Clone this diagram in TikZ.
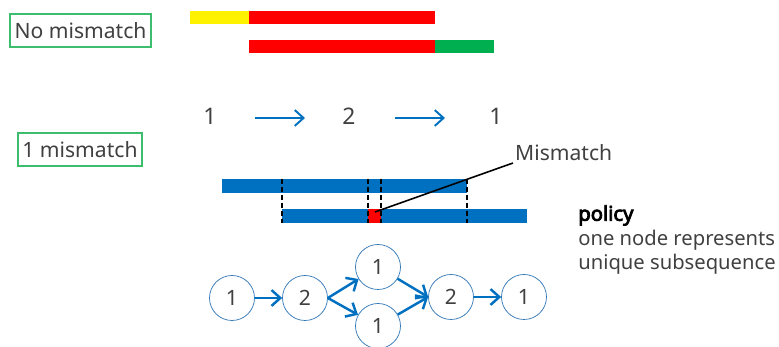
\documentclass[tikz,border=0pt]{standalone}
\usepackage{fontspec}
\setmainfont{Noto Sans}
\newfontfamily\heavysans{Noto Sans}[FakeBold=4]
\usepackage{tikz}
\usetikzlibrary{arrows.meta}

\definecolor{seqblue}{RGB}{0,112,192}
\definecolor{ringblue}{RGB}{46,117,182}
\definecolor{boxgreen}{RGB}{60,190,110}
\definecolor{okgreen}{RGB}{0,176,80}
\definecolor{txtgray}{RGB}{64,64,64}

\tikzset{
  caselabel/.style={draw=boxgreen, thick, inner sep=0pt, minimum height=33*0.02cm,
    text=txtgray, font=\fontsize{12}{14}\selectfont},
  kmer/.style={circle, draw=ringblue, thin, fill=white, minimum size=45*0.02cm,
    inner sep=0pt, text=txtgray, font=\fontsize{12}{14}\selectfont},
  flow/.style={-{Straight Barb[length=5pt,width=9pt]}, seqblue, line width=1.4pt},
  cut/.style={dash pattern=on 3pt off 1.5pt, black, line width=1.1pt}
}

\begin{document}
\begin{tikzpicture}[x=0.02cm, y=-0.02cm]
      \useasboundingbox (0,0) rectangle (779,347);
      % Case without mismatch
      \node[caselabel, minimum width=141*0.02cm] (nomis) at (80.5,30.5) {No mismatch};
      \fill[yellow] (190,11) rectangle (249,24);
      \fill[red] (249,11) rectangle (435,24);
      \fill[red] (249,40) rectangle (435,53);
      \fill[okgreen] (435,40) rectangle (494,53);
      % Resulting path
      \node[text=txtgray, font=\fontsize{13}{15}\selectfont] (pa) at (210,116) {1};
      \node[text=txtgray, font=\fontsize{13}{15}\selectfont] (pb) at (349,116) {2};
      \node[text=txtgray, font=\fontsize{13}{15}\selectfont] (pc) at (496,116) {1};
      \draw[flow, line width=1.1pt] (255,118) -- (305,118);
      \draw[flow, line width=1.1pt] (395,118) -- (445,118);
      % Case with one mismatch
      \node[caselabel, minimum width=124*0.02cm] (onemis) at (80,149.5) {1 mismatch};
      \fill[seqblue] (222,179) rectangle (467,193);
      \fill[seqblue] (282,209) rectangle (527,223);
      \fill[red] (368,209) rectangle (381,223);
      \foreach \xc in {282,368,381,467}
        \draw[cut] (\xc,179) -- (\xc,223);
      \node[anchor=west, text=txtgray, font=\fontsize{12}{14}\selectfont] (mis) at (509,153) {Mismatch};
      \draw[black, line width=0.9pt] (375,212) -- (513,163);
      % Graph of sub-sequences
      \node[kmer] (n1) at (232,298) {1};
      \node[kmer] (n2) at (305,298) {2};
      \node[kmer] (n3) at (378,267) {1};
      \node[kmer] (n4) at (378,326) {1};
      \node[kmer] (n5) at (451,297) {2};
      \node[kmer] (n6) at (524,297) {1};
      \draw[flow] (n1) -- (n2);
      \draw[flow] (n2.east) -- (n3);
      \draw[flow] (n2.east) -- (n4);
      \draw[flow] (n3) -- (n5.west);
      \draw[flow] (n4) -- (n5.west);
      \draw[flow] (n5) -- (n6);
      % Note
      \node[anchor=north west, align=left, inner sep=0pt, text=txtgray,
        font=\fontsize{11.5}{14}\selectfont] (note) at (578,205)
        {\textcolor{black}{\heavysans policy}\\one node represents\\unique subsequence};
    \end{tikzpicture}
\end{document}
